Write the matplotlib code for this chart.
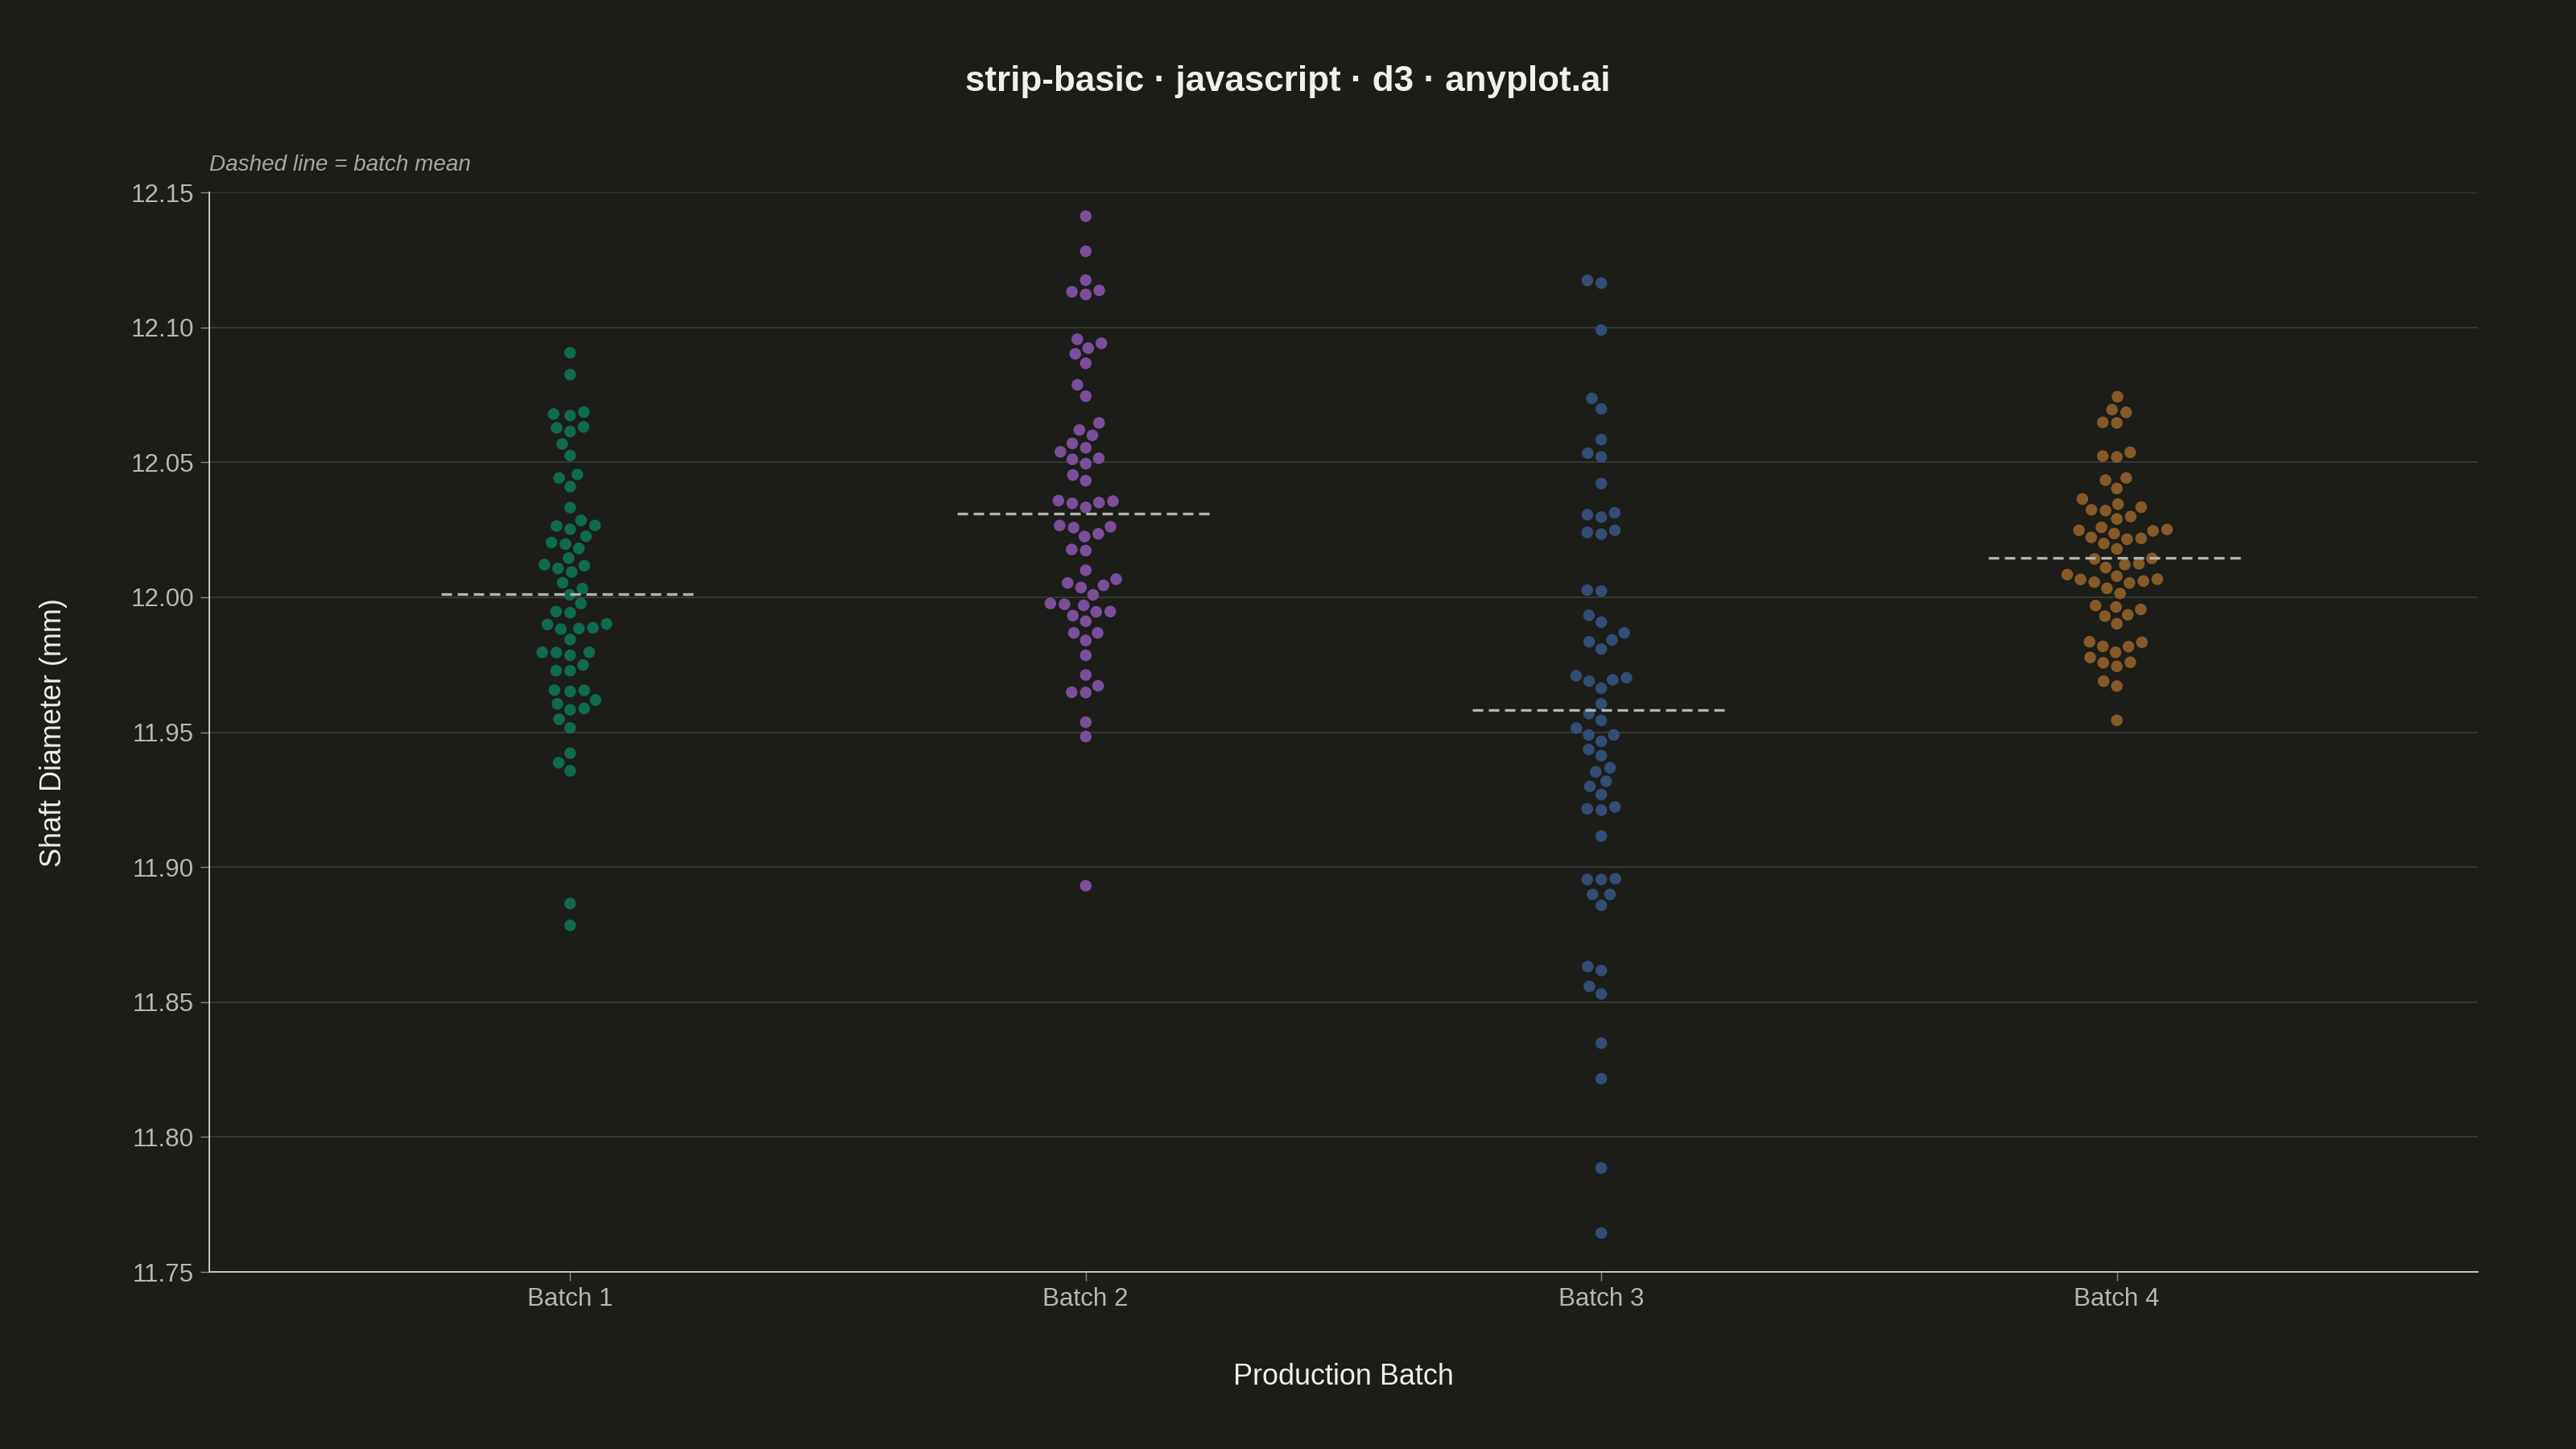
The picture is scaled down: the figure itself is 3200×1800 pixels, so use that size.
import numpy as np
import matplotlib.pyplot as plt

plt.rcParams['font.family'] = ['Liberation Sans', 'DejaVu Sans']

batches = ['Batch 1', 'Batch 2', 'Batch 3', 'Batch 4']

batch_1 = [12.0906, 12.0825, 12.0686, 12.0679, 12.0673, 12.0631, 12.0628, 12.0614, 12.0568, 12.0525,
           12.0455, 12.0442, 12.0410, 12.0332, 12.0285, 12.0266, 12.0264, 12.0252, 12.0226, 12.0203,
           12.0197, 12.0181, 12.0145, 12.0121, 12.0117, 12.0107, 12.0094, 12.0054, 12.0032, 12.0009,
           11.9977, 11.9947, 11.9943, 11.9901, 11.9899, 11.9887, 11.9884, 11.9882, 11.9843,
           11.9795, 11.9796, 11.9796, 11.9785, 11.9749, 11.9728, 11.9728, 11.9656, 11.9651, 11.9655,
           11.9605, 11.9619, 11.9583, 11.9588, 11.9548, 11.9516, 11.9422, 11.9387, 11.9357, 11.8865, 11.8784]

batch_2 = [12.1412, 12.1282, 12.1175, 12.1132, 12.1137, 12.1122,
           12.0956, 12.0941, 12.0923, 12.0902, 12.0867, 12.0787, 12.0745,
           12.0646, 12.0620, 12.0600, 12.0570, 12.0554, 12.0539, 12.0515, 12.0511, 12.0495, 12.0453, 12.0432,
           12.0333, 12.0356, 12.0358, 12.0348, 12.0351,
           12.0258, 12.0266, 12.0261, 12.0235, 12.0225, 12.0177, 12.0173,
           12.0100, 12.0067, 12.0053, 12.0044, 12.0036, 12.0009,
           11.9977, 11.9974, 11.9970, 11.9947, 11.9946, 11.9932, 11.9911,
           11.9868, 11.9868, 11.9840, 11.9785, 11.9712, 11.9672, 11.9648, 11.9647,
           11.9537, 11.9484, 11.8931]

batch_3 = [12.1174, 12.1164, 12.0990, 12.0737, 12.0698, 12.0584, 12.0534, 12.0520, 12.0421,
           12.0313, 12.0306, 12.0297, 12.0248, 12.0240, 12.0234,
           12.0023, 12.0026, 11.9933, 11.9908, 11.9868, 11.9835, 11.9842, 11.9808,
           11.9702, 11.9694, 11.9689, 11.9709, 11.9663,
           11.9605, 11.9569, 11.9544, 11.9515, 11.9490, 11.9490, 11.9466, 11.9436, 11.9413,
           11.9368, 11.9353, 11.9318, 11.9299, 11.9269, 11.9223, 11.9216, 11.9211,
           11.9115, 11.8957, 11.8954, 11.8954,
           11.8899, 11.8899, 11.8858, 11.8632, 11.8617, 11.8558, 11.8530, 11.8348, 11.8216, 11.7885, 11.7644]

batch_4 = [12.0743, 12.0695, 12.0685, 12.0646, 12.0648, 12.0537, 12.0523, 12.0520,
           12.0442, 12.0434, 12.0403, 12.0364, 12.0345, 12.0334, 12.0321, 12.0324,
           12.0299, 12.0290, 12.0259, 12.0248, 12.0246, 12.0251, 12.0236,
           12.0222, 12.0215, 12.0218, 12.0199, 12.0179,
           12.0142, 12.0144, 12.0121, 12.0124, 12.0110,
           12.0084, 12.0078, 12.0067, 12.0066, 12.0060, 12.0056, 12.0053, 12.0033, 12.0014,
           11.9969, 11.9964, 11.9955, 11.9935, 11.9930, 11.9902,
           11.9835, 11.9833, 11.9817, 11.9818, 11.9796, 11.9777, 11.9759, 11.9757, 11.9744,
           11.9689, 11.9671, 11.9544]

y_ticks = [11.75, 11.80, 11.85, 11.90, 11.95, 12.00, 12.05, 12.10, 12.15]

colors = ['#0e6b50', '#7b4e9c', '#334d75', '#855a26']
BG = '#1c1c18'
MIN_DIST = 17.5  # px between dot centres in the swarm

fig = plt.figure(figsize=(32, 18), dpi=100, facecolor=BG)
ax = fig.add_axes([0.08125, 0.1222, 0.8806, 0.745])
ax.set_facecolor(BG)
ax.set_xlim(-0.7, 3.7)
ax.set_ylim(11.75, 12.15)


def swarm(values, center):
    # greedy beeswarm in pixel space: each dot goes as close to the centre as it can
    pts = ax.transData.transform(np.column_stack([np.full(len(values), center), values]))
    ys = pts[:, 1]
    px_per_unit = ax.transData.transform((1, 0))[0] - ax.transData.transform((0, 0))[0]
    xs = np.zeros(len(values))
    placed = []
    for i in np.argsort(ys):
        y = ys[i]
        blocks = []
        cands = [0.0]
        for px, py in placed:
            dy = abs(py - y)
            if dy < MIN_DIST:
                dx = np.sqrt(MIN_DIST ** 2 - dy ** 2)
                blocks.append((px - dx, px + dx))
                cands += [px - dx, px + dx]
        cands.sort(key=abs)
        for c in cands:
            if all(not (lo + 1e-6 < c < hi - 1e-6) for lo, hi in blocks):
                break
        xs[i] = c
        placed.append((c, y))
    return center + xs / px_per_unit


for i, vals in enumerate([batch_1, batch_2, batch_3, batch_4]):
    x = swarm(vals, i)
    ax.scatter(x, vals, s=109, color=colors[i], edgecolors='none', zorder=3)
    m = np.mean(vals)
    ax.plot([i - 0.25, i + 0.25], [m, m], color='#b4b4ac', lw=2.4,
            linestyle=(0, (3.9, 2.1)), zorder=4)

ax.set_xticks(range(len(batches)))
ax.set_xticklabels(batches)
ax.set_yticks(y_ticks)
ax.set_yticklabels([f'{v:.2f}' for v in y_ticks])
ax.tick_params(axis='both', colors='#8a8a84', labelcolor='#b8b8b0', labelsize=22.6,
               length=8, width=1, pad=5.8)

ax.set_axisbelow(True)
ax.yaxis.grid(True, color='#3c3c38', lw=1.2)
for s in ['top', 'right']:
    ax.spines[s].set_visible(False)
for s in ['left', 'bottom']:
    ax.spines[s].set_color('#c8c8c0')
    ax.spines[s].set_linewidth(1.4)

fig.text(0.5, 1 - 113 / 1800, 'strip-basic · javascript · d3 · anyplot.ai', ha='center',
         va='baseline', fontsize=31.7, fontweight='bold', color='#f0efe8')
fig.text(260 / 3200, 1 - 212 / 1800, 'Dashed line = batch mean', ha='left', va='baseline',
         fontsize=20.1, style='italic', color='#a8a8a0')
fig.text(1669 / 3200, 1 - 1720 / 1800, 'Production Batch', ha='center', va='baseline',
         fontsize=25.9, color='#f0efe8')
fig.text(67 / 3200, 1 - 910 / 1800, 'Shaft Diameter (mm)', ha='center', va='center',
         rotation=90, fontsize=25.9, color='#f0efe8')

fig.savefig('out.png', dpi=100, facecolor=BG)
